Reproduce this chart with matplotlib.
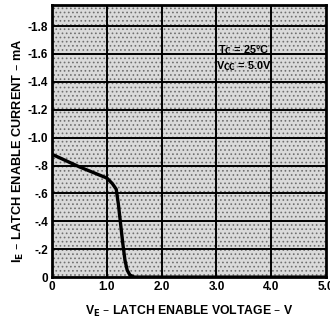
import numpy as np
import matplotlib
matplotlib.use('Agg')
import matplotlib.pyplot as plt

# -----------------------------------------------------------------------------------------

ve = [0.0, 0.5, 1.0, 1.1, 1.17, 1.21, 1.25, 1.29, 1.33, 1.37, 1.42, 1.5, 2.0, 3.0, 4.0, 5.0]
ie = [-0.88, -0.79, -0.71, -0.67, -0.63, -0.52, -0.38, -0.24, -0.12, -0.05, -0.015, 0.0,
      0.0, 0.0, 0.0, 0.0]

xticks = [0, 1, 2, 3, 4, 5]
xtick_labels = ['0', '1.0', '2.0', '3.0', '4.0', '5.0']
yticks = [0, -0.2, -0.4, -0.6, -0.8, -1.0, -1.2, -1.4, -1.6, -1.8]
ytick_labels = ['0', '-.2', '-.4', '-.6', '-.8', '-1.0', '-1.2', '-1.4', '-1.6', '-1.8']

# -----------------------------------------------------------------------------------------

plt.rcParams['font.family'] = ['Liberation Sans', 'DejaVu Sans']
plt.rcParams['hatch.color'] = '#707070'
plt.rcParams['hatch.linewidth'] = 0.7

fig = plt.figure(figsize=(3.3, 3.2), dpi=100)
ax = fig.add_axes([0.158, 0.134, 0.830, 0.850])

ax.set_facecolor('#dadada')
ax.add_patch(plt.Rectangle((0, 0), 1, 1, transform=ax.transAxes, facecolor='none',
                           edgecolor='#707070', hatch='....', linewidth=0, zorder=0))

ax.set_xlim(0, 5)
ax.set_ylim(0, -1.95)

for x in xticks[1:-1]:
    ax.axvline(x, color='k', lw=1.4, zorder=1)
for y in yticks[1:]:
    ax.axhline(y, color='k', lw=1.4, zorder=1)

ax.plot(ve, ie, color='k', lw=2.4, solid_capstyle='butt', zorder=3)

for s in ax.spines.values():
    s.set_linewidth(2.0)

ax.set_xticks(xticks)
ax.set_xticklabels(xtick_labels, fontweight='bold', fontsize=8.5)
ax.set_yticks(yticks)
ax.set_yticklabels(ytick_labels, fontweight='bold', fontsize=8.5)
ax.tick_params(length=0, pad=3)

ax.set_xlabel('V$_\\mathbf{E}$ \u2013 LATCH ENABLE VOLTAGE \u2013 V', fontweight='bold',
              fontsize=8.8, labelpad=8)
ax.set_ylabel('I$_\\mathbf{E}$ \u2013 LATCH ENABLE CURRENT \u2013 mA', fontweight='bold',
              fontsize=9.2)
ax.yaxis.set_label_coords(-0.095, 0.465)

ax.text(3.5, -1.63, 'T$_\\mathbf{C}$ = 25\u00b0C', fontweight='bold', fontsize=7.8,
        ha='center', va='center', zorder=4)
ax.text(3.5, -1.51, 'V$_\\mathbf{CC}$ = 5.0V', fontweight='bold', fontsize=7.8,
        ha='center', va='center', zorder=4)

fig.savefig('out.png', dpi=100)
